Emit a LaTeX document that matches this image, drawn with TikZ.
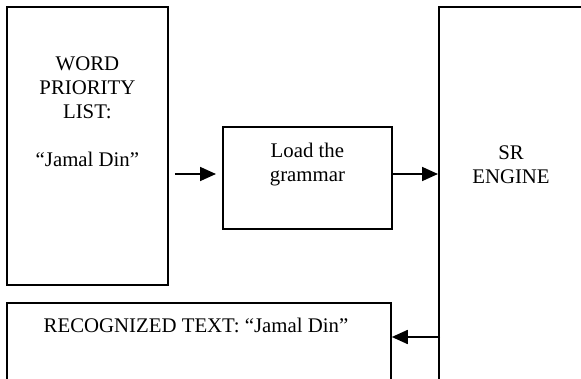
\documentclass[tikz,border=0pt]{standalone}
\usepackage{fontspec}
\setmainfont{Liberation Serif}
\usetikzlibrary{arrows.meta,calc}

\tikzset{
  box/.style={draw=black, line width=1.8pt, fill=white, inner sep=0pt, anchor=north west},
  txt/.style={inner sep=0pt, outer sep=0pt, align=center, anchor=north,
    font=\fontsize{20.8}{24}\selectfont},
  arr/.style={line width=1.8pt, -{Triangle[length=16pt,width=14pt]}}
}

\begin{document}
\begin{tikzpicture}[x=1pt,y=-1pt]
  \useasboundingbox (0,0) rectangle (581,379);

  % boxes
  \node[box, minimum width=161pt, minimum height=278pt] (wpl) at (6,6) {};
  \node[box, minimum width=169pt, minimum height=102pt] (load) at (222,126) {};
  \node[box, minimum width=148pt, minimum height=400pt] (sr) at (438,6) {};
  \node[box, minimum width=384pt, minimum height=100pt] (rec) at (6,302) {};

  % labels (north = first baseline minus cap height)
  \node[txt] (wpltxt) at ($(wpl.north)+(0,51)$) {WORD\\PRIORITY\\LIST:\\[24pt]“Jamal Din”};
  \node[txt] (loadtxt) at ($(load.north)+(0,17)$) {Load the\\grammar};
  \node[txt] (srtxt) at (511,146) {SR\\ENGINE};
  \node[txt] (rectxt) at (196,318) {RECOGNIZED TEXT: “Jamal Din”};

  % connector heights
  \coordinate (r1) at (0,174);
  \coordinate (r2) at (0,337);

  % connectors
  \draw[arr] ($(wpl.east |- r1)+(6,0)$) -- ($(load.west |- r1)+(-6,0)$);
  \draw[arr] (load.east |- r1) -- (sr.west |- r1);
  \draw[arr] ($(sr.west |- r2)+(2,0)$) -- (rec.east |- r2);
\end{tikzpicture}
\end{document}
